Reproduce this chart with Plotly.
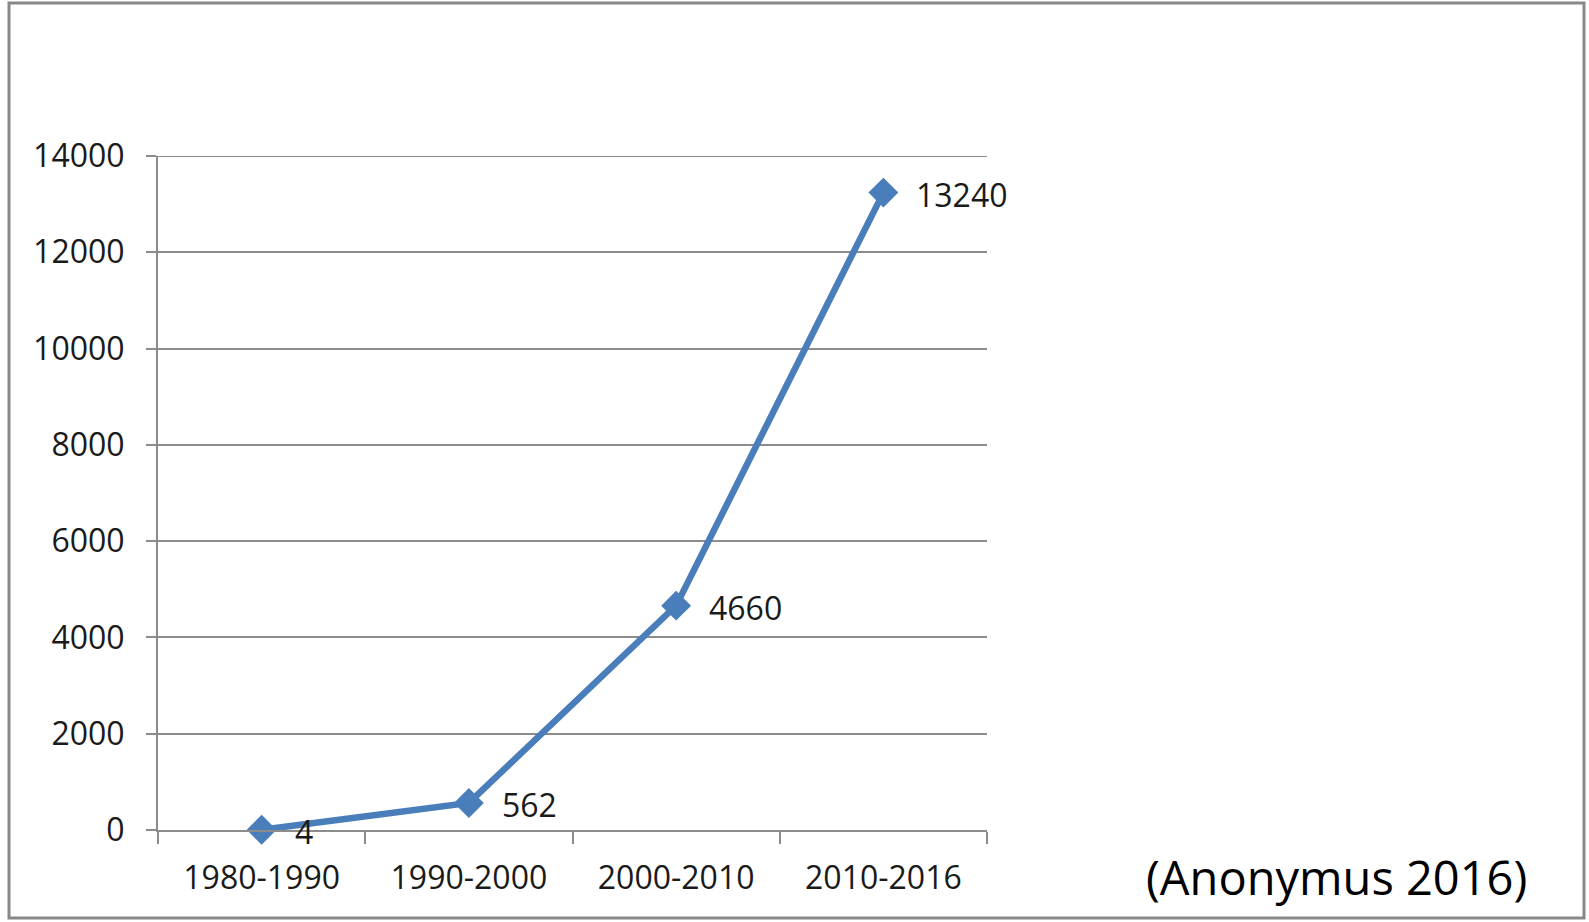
import plotly.graph_objects as go

categories = ["1980-1990", "1990-2000", "2000-2010", "2010-2016"]
values = [4, 562, 4660, 13240]
value_labels = ["4", "562", "4660", "13240"]
y_ticks = [0, 2000, 4000, 6000, 8000, 10000, 12000, 14000]
source_note = "(Anonymus 2016)"

W, H = 1589, 922
L, R, T, B = 158, 1589 - 987, 156, 922 - 830
PW, PH = W - L - R, H - T - B

def px(x):
    return (x - L) / PW

def py(y):
    return (H - B - y) / PH

FONT = "Open Sans"
GRID = "#8c8c8c"
BLUE = "#4a7ebb"

fig = go.Figure()
fig.add_trace(go.Scatter(
    x=categories, y=values,
    mode="lines+markers",
    line=dict(color=BLUE, width=6.5),
    marker=dict(symbol="diamond", size=23, color=BLUE),
    cliponaxis=False,
    hoverinfo="x+y",
))

label_annotations = [
    dict(
        x=c, y=v, xref="x", yref="y", text=t,
        xanchor="left", yanchor="middle", xshift=31, yshift=-2,
        showarrow=False, font=dict(family=FONT, size=32, color="#1a1a1a"),
    )
    for c, v, t in zip(categories, values, value_labels)
]

fig.update_layout(
    width=W, height=H,
    margin=dict(l=L, r=R, t=T, b=B, pad=0),
    paper_bgcolor="white", plot_bgcolor="white",
    showlegend=False,
    font=dict(family=FONT, size=32, color="#1a1a1a"),
    xaxis=dict(
        type="category", range=[-0.5, 3.5],
        tickson="boundaries", ticks="outside", ticklen=12, tickwidth=2, tickcolor=GRID,
        showline=True, linecolor=GRID, linewidth=2,
        showgrid=False, zeroline=False,
        tickfont=dict(family=FONT, size=32, color="#1a1a1a"),
        ticklabelstandoff=19,
    ),
    yaxis=dict(
        range=[0, 14000], tickvals=y_ticks,
        ticktext=[str(v) for v in y_ticks],
        ticks="outside", ticklen=10, tickwidth=2, tickcolor=GRID,
        showline=True, linecolor=GRID, linewidth=2,
        showgrid=True, gridcolor=GRID, gridwidth=2,
        zeroline=False,
        tickfont=dict(family=FONT, size=32, color="#1a1a1a"),
        ticklabelstandoff=15,
    ),
    shapes=[
        dict(
            type="rect", xref="paper", yref="paper",
            x0=px(9), x1=px(1584), y0=py(3), y1=py(918),
            line=dict(color="#888888", width=3), fillcolor="rgba(0,0,0,0)",
            layer="below",
        ),
        dict(
            type="line", xref="paper", yref="y",
            x0=0, x1=1, y0=y_ticks[-1], y1=y_ticks[-1],
            line=dict(color=GRID, width=2), layer="below",
        ),
    ],
    annotations=label_annotations + [dict(
        text=source_note, xref="paper", yref="paper",
        x=px(1336), y=py(877), xanchor="center", yanchor="middle",
        showarrow=False, font=dict(family=FONT, size=47, color="#000000"),
    )],
)

fig.write_html("out.html")
